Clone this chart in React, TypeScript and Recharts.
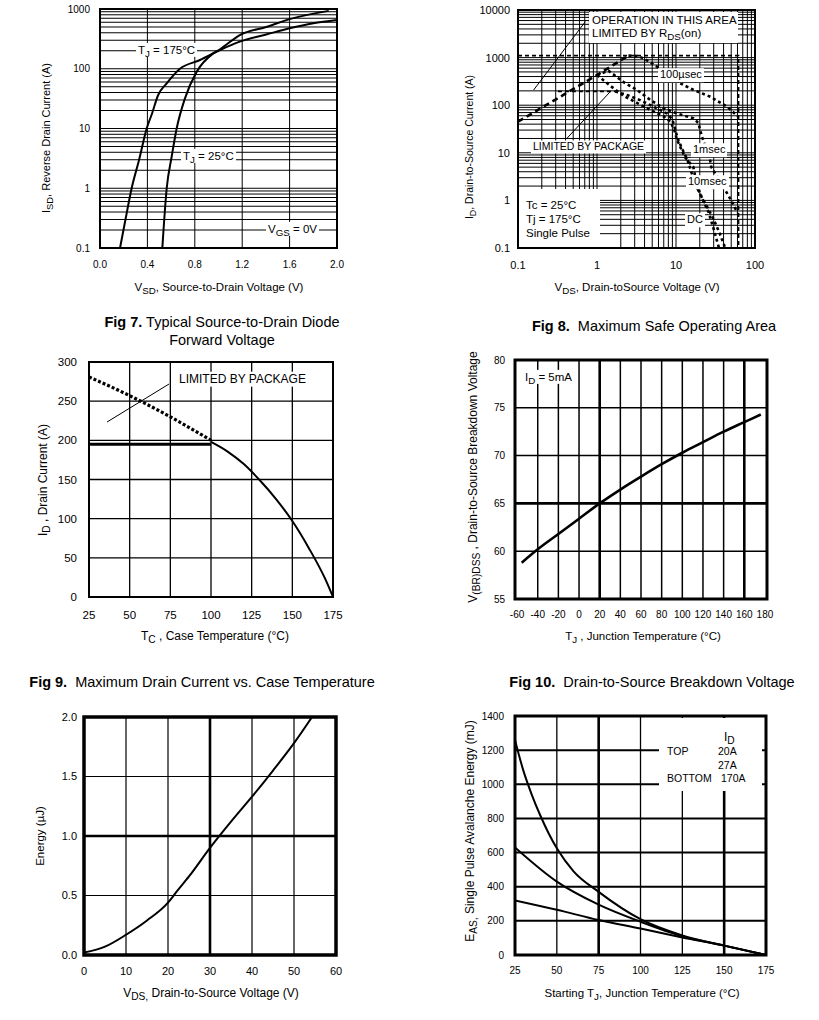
import React from 'react'
import { LineChart, Line, XAxis, YAxis, ReferenceLine, ReferenceArea } from 'recharts'

const FONT = '"Liberation Sans", Arial, Helvetica, sans-serif'

type Rect = { x0: number; y0: number; x1: number; y1: number }
const pts = (a: number[][]) => a.map(([x, y]) => ({ x, y }))

// log grid values strictly inside (from, to)
const logGrid = (from: number, to: number) => {
  const out: number[] = []
  for (let d = from; d < to; d *= 10)
    for (let m = 1; m < 10; m++) {
      const v = +(d * m).toPrecision(3)
      if (v > from && v < to) out.push(v)
    }
  return out
}

// ---------- Fig 7: source-to-drain diode forward voltage
const fig7XTicks = [0, 0.4, 0.8, 1.2, 1.6, 2.0]
const fig7YTicks = [0.1, 1, 10, 100, 1000]
const fig7Tj175 = pts([
  [0.169, 0.1], [0.215, 0.3], [0.267, 1], [0.33, 3], [0.394, 10], [0.44, 18], [0.49, 36],
  [0.563, 57], [0.675, 100], [0.844, 140], [1.013, 206], [1.18, 284], [1.41, 377],
  [1.6, 475], [1.8, 577], [2.0, 655],
])
const fig7Tj25 = pts([
  [0.526, 0.1], [0.563, 1], [0.605, 3.4], [0.647, 10], [0.717, 32], [0.816, 89],
  [0.956, 181], [1.013, 212], [1.18, 367], [1.41, 505], [1.6, 676], [1.93, 930],
])

// ---------- Fig 8: safe operating area
const fig8XTicks = [0.1, 1, 10, 100]
const fig8YTicks = [0.1, 1, 10, 100, 1000, 10000]
const fig8Idm = pts([[0.1, 1100], [62, 1100], [62, 0.1]])
const fig8Rds = pts([[0.1, 45], [1, 430], [2.5, 1100]])
const fig8Package = pts([[0.32, 195], [1.7, 195]])
const fig8Us100 = pts([
  [2.5, 1100], [3.2, 1080], [3.9, 966], [5.74, 645], [10.3, 312], [16.7, 209],
  [27.2, 151], [44.2, 93], [61.7, 57],
])
const fig8Ms1 = pts([
  [1.0, 430], [1.4, 530], [2.2, 300], [3.2, 210], [4.7, 130], [7, 86], [10.3, 67],
  [16.7, 53], [19.3, 42], [20, 32], [21.3, 22], [23, 15], [26, 10], [28, 5],
  [33, 3.2], [41.5, 1.7], [50, 1], [60, 0.55],
])
const fig8Ms10 = pts([
  [1.0, 430], [1.5, 250], [2.2, 155], [3.2, 112], [4.7, 80], [7, 58], [8.5, 45],
  [9.5, 30], [10.3, 19], [11.4, 13], [13, 8], [16.6, 5], [17.5, 3.2], [18.4, 2],
  [21, 1.2], [24.6, 0.75], [30, 0.4], [35, 0.22], [42, 0.1],
])
const fig8Dc = pts([
  [1.7, 195], [2.5, 160], [3.5, 128], [5.2, 93], [7.7, 67], [9, 50], [9.8, 30],
  [10.5, 20], [12, 12], [14, 7], [16, 3.5], [18, 2], [20, 1.4], [22, 1], [26, 0.55],
  [30, 0.25], [35, 0.1],
])
const fig8RdsLeader = pts([[0.1575, 208], [0.711, 5675]])
const fig8PkgLeader = pts([[0.417, 20.2], [1.47, 192]])

// ---------- Fig 9: max drain current vs case temperature
const fig9XTicks = [25, 50, 75, 100, 125, 150, 175]
const fig9YTicks = [0, 50, 100, 150, 200, 250, 300]
const fig9Silicon = pts([[25, 281], [50, 257], [75, 230], [100, 200]])
const fig9Package = pts([[25, 195], [100, 195]])
const fig9Curve = pts([
  [100, 198], [110, 186], [120, 170], [130, 149], [140, 125], [150, 97],
  [160, 63], [170, 24], [175, 0],
])
const fig9Leader = pts([[36.1, 223.4], [74.2, 271.9]])

// ---------- Fig 10: breakdown voltage vs junction temperature
const fig10XTicks = [-60, -40, -20, 0, 20, 40, 60, 80, 100, 120, 140, 160, 180]
const fig10YTicks = [55, 60, 65, 70, 75, 80]
const fig10Curve = pts([
  [-55.5, 58.8], [-40, 60.2], [-20, 61.8], [0, 63.4], [20, 65], [40, 66.45], [60, 67.8],
  [80, 69.1], [100, 70.3], [120, 71.4], [140, 72.5], [160, 73.5], [176, 74.3],
])

// ---------- Fig 11: output capacitance stored energy
const fig11XTicks = [0, 10, 20, 30, 40, 50, 60]
const fig11YTicks = [0, 0.5, 1.0, 1.5, 2.0]
const fig11Curve = pts([
  [0, 0.02], [5, 0.07], [10, 0.17], [15, 0.29], [20, 0.44], [22, 0.53], [25, 0.66],
  [30, 0.9], [35, 1.12], [40, 1.33], [45, 1.55], [50, 1.78], [54.3, 2.0],
])

// ---------- Fig 12: single pulse avalanche energy
const fig12XTicks = [25, 50, 75, 100, 125, 150, 175]
const fig12YTicks = [0, 200, 400, 600, 800, 1000, 1200, 1400]
const fig12Top = pts([
  [25, 1260], [30, 1080], [35, 940], [40, 820], [45, 715], [50, 625], [60, 490],
  [75, 370], [100, 210], [125, 115], [150, 55], [175, 0],
])
const fig12Mid = pts([[25, 630], [50, 430], [75, 295], [100, 195], [125, 110], [150, 55], [175, 0]])
const fig12Bottom = pts([[25, 320], [50, 265], [75, 205], [100, 155], [125, 103], [150, 55], [175, 0]])

const PL = 60
const PT = 6
const PR = 12
const PB = 36

function Frame({ r, children }: { r: Rect; children: React.ReactNode }) {
  return (
    <div style={{ position: 'absolute', left: r.x0 - PL, top: r.y0 - PT }}>
      <LineChart
        width={r.x1 - r.x0 + PL + PR}
        height={r.y1 - r.y0 + PT + PB}
        margin={{ top: PT, right: PR, left: 0, bottom: 0 }}
      >
        {children}
      </LineChart>
    </div>
  )
}

const tickStyle = (size: number) => ({ fontSize: size, fill: '#000', fontFamily: FONT })

const curve = (key: string, data: { x: number; y: number }[], width = 2, dash?: string, type: 'monotone' | 'linear' = 'monotone') => (
  <Line
    key={key}
    data={data}
    dataKey="y"
    type={type}
    stroke="#000"
    strokeWidth={width}
    strokeDasharray={dash}
    dot={false}
    activeDot={false}
    isAnimationActive={false}
  />
)

const hLines = (vals: number[], w: (v: number) => number) =>
  vals.map((v) => <ReferenceLine key={'h' + v} y={v} stroke="#000" strokeWidth={w(v)} />)
const vLines = (vals: number[], w: (v: number) => number) =>
  vals.map((v) => <ReferenceLine key={'v' + v} x={v} stroke="#000" strokeWidth={w(v)} />)

const border = (x: number[], y: number[], w: number) => (
  <ReferenceArea x1={x[0]} x2={x[1]} y1={y[0]} y2={y[1]} fill="none" stroke="#000" strokeWidth={w} />
)

const segment = (key: string, p: { x: number; y: number }[]) => (
  <ReferenceLine key={key} segment={p} stroke="#000" strokeWidth={1} />
)

function Sub({ children }: { children: React.ReactNode }) {
  return <span style={{ fontSize: '0.85em', position: 'relative', top: '0.3em' }}>{children}</span>
}

function T({ x, y, size = 11, anchor = 'start', bg = false, children }: {
  x: number; y: number; size?: number; anchor?: 'start' | 'middle' | 'end'; bg?: boolean; children: React.ReactNode
}) {
  const tx = anchor === 'middle' ? '-50%' : anchor === 'end' ? '-100%' : '0'
  return (
    <div
      style={{
        position: 'absolute', left: x, top: y, transform: `translate(${tx}, -50%)`,
        fontSize: size, lineHeight: 1.05, whiteSpace: 'pre',
        background: bg ? '#fff' : undefined, padding: bg ? '1px 2px' : 0,
      }}
    >
      {children}
    </div>
  )
}

function VT({ x, y, size = 11.5, children }: { x: number; y: number; size?: number; children: React.ReactNode }) {
  return (
    <div
      style={{
        position: 'absolute', left: x, top: y, transform: 'translate(-50%, -50%) rotate(-90deg)',
        fontSize: size, lineHeight: 1.05, whiteSpace: 'pre',
      }}
    >
      {children}
    </div>
  )
}

function Box({ x0, y0, x1, y1 }: Rect) {
  return <div style={{ position: 'absolute', left: x0, top: y0, width: x1 - x0, height: y1 - y0, background: '#fff' }} />
}

const r7: Rect = { x0: 100, y0: 9, x1: 337, y1: 248 }
const r8: Rect = { x0: 518, y0: 10, x1: 755, y1: 248 }
const r9: Rect = { x0: 89, y0: 362, x1: 333, y1: 597 }
const r10: Rect = { x0: 515, y0: 360, x1: 767, y1: 599 }
const r11: Rect = { x0: 84, y0: 717, x1: 336, y1: 955 }
const r12: Rect = { x0: 515, y0: 716, x1: 766, y1: 955 }

export default function App() {
  return (
    <div style={{ position: 'absolute', left: 0, top: 0, width: 819, height: 1020, background: '#fff', fontFamily: FONT, color: '#000', overflow: 'hidden' }}>
      {/* Fig 7 */}
      <Frame r={r7}>
        <XAxis type="number" dataKey="x" domain={[0, 2]} ticks={fig7XTicks} interval={0} height={PB} axisLine={false} tickLine={false} tickMargin={7} tick={tickStyle(10)} tickFormatter={(v: number) => v.toFixed(1)} allowDataOverflow />
        <YAxis type="number" scale="log" domain={[0.1, 1000]} ticks={fig7YTicks} interval={0} width={PL} axisLine={false} tickLine={false} tickMargin={4} tick={tickStyle(10)} allowDataOverflow />
        {hLines(logGrid(0.1, 1000), () => 1)}
        {vLines([0.4, 0.8, 1.2, 1.6], () => 1)}
        {curve('t175', fig7Tj175, 2)}
        {curve('t25', fig7Tj25, 2)}
        {border([0, 2], [0.1, 1000], 2)}
      </Frame>

      {/* Fig 8 */}
      <Frame r={r8}>
        <XAxis type="number" dataKey="x" scale="log" domain={[0.1, 100]} ticks={fig8XTicks} interval={0} height={PB} axisLine={false} tickLine={false} tickMargin={7} tick={tickStyle(11)} allowDataOverflow />
        <YAxis type="number" scale="log" domain={[0.1, 10000]} ticks={fig8YTicks} interval={0} width={PL} axisLine={false} tickLine={false} tickMargin={2} tick={tickStyle(11)} allowDataOverflow />
        {hLines(logGrid(0.1, 10000), () => 1)}
        {vLines(logGrid(0.1, 100), () => 1)}
        {segment('ldr1', fig8RdsLeader)}
        {segment('ldr2', fig8PkgLeader)}
        {curve('idm', fig8Idm, 1.6, '4 3', 'linear')}
        {curve('pkg', fig8Package, 1.6, '4 3', 'linear')}
        {curve('rds', fig8Rds, 2.6, '6 4', 'linear')}
        {curve('us100', fig8Us100, 2.6, '3 3', 'linear')}
        {curve('ms1', fig8Ms1, 2.6, '3 3', 'linear')}
        {curve('ms10', fig8Ms10, 2.6, '3 3', 'linear')}
        {curve('dc', fig8Dc, 2.6, '3 3', 'linear')}
        {border([0.1, 100], [0.1, 10000], 2)}
      </Frame>

      {/* Fig 9 */}
      <Frame r={r9}>
        <XAxis type="number" dataKey="x" domain={[25, 175]} ticks={fig9XTicks} interval={0} height={PB} axisLine={false} tickLine={false} tickMargin={8} tick={tickStyle(11.5)} allowDataOverflow />
        <YAxis type="number" domain={[0, 300]} ticks={fig9YTicks} interval={0} width={PL} axisLine={false} tickLine={false} tickMargin={6} tick={tickStyle(11.5)} allowDataOverflow />
        {hLines([50, 100, 150, 200, 250], () => 1.3)}
        {vLines([50, 75, 100, 125, 150], () => 1.3)}
        {segment('ldr', fig9Leader)}
        {curve('pkg', fig9Package, 3.2, undefined, 'linear')}
        {curve('si', fig9Silicon, 3.2, '3 2', 'monotone')}
        {curve('id', fig9Curve, 2)}
        {border([25, 175], [0, 300], 2)}
      </Frame>

      {/* Fig 10 */}
      <Frame r={r10}>
        <XAxis type="number" dataKey="x" domain={[-62, 182]} ticks={fig10XTicks} interval={0} height={PB} axisLine={false} tickLine={false} tickMargin={6} tick={tickStyle(10)} allowDataOverflow />
        <YAxis type="number" domain={[55, 80]} ticks={fig10YTicks} interval={0} width={PL} axisLine={false} tickLine={false} tickMargin={4} tick={tickStyle(10)} allowDataOverflow />
        {hLines([60, 65, 70, 75], (v) => (v === 65 ? 2.6 : 1.5))}
        {vLines([-40, -20, 0, 20, 40, 60, 80, 100, 120, 140, 160], (v) => (v === 20 || v === 160 ? 2.6 : 1.5))}
        {curve('bv', fig10Curve, 2.6)}
        {border([-62, 182], [55, 80], 3)}
      </Frame>

      {/* Fig 11 */}
      <Frame r={r11}>
        <XAxis type="number" dataKey="x" domain={[0, 60]} ticks={fig11XTicks} interval={0} height={PB} axisLine={false} tickLine={false} tickMargin={6} tick={tickStyle(11)} allowDataOverflow />
        <YAxis type="number" domain={[0, 2]} ticks={fig11YTicks} interval={0} width={PL} axisLine={false} tickLine={false} tickMargin={1} tick={tickStyle(11)} tickFormatter={(v: number) => v.toFixed(1)} allowDataOverflow />
        {hLines([0.5, 1.0, 1.5], (v) => (v === 1 ? 2.6 : 1.2))}
        {vLines([10, 20, 30, 40, 50], (v) => (v === 30 ? 2.6 : 1.2))}
        {curve('e', fig11Curve, 2)}
        {border([0, 60], [0, 2], 3.5)}
      </Frame>

      {/* Fig 12 */}
      <Frame r={r12}>
        <XAxis type="number" dataKey="x" domain={[25, 175]} ticks={fig12XTicks} interval={0} height={PB} axisLine={false} tickLine={false} tickMargin={6} tick={tickStyle(10)} allowDataOverflow />
        <YAxis type="number" domain={[0, 1400]} ticks={fig12YTicks} interval={0} width={PL} axisLine={false} tickLine={false} tickMargin={5} tick={tickStyle(10)} allowDataOverflow />
        {hLines([200, 400, 600, 800, 1000, 1200], () => 2)}
        {vLines([50, 75, 100, 125, 150], (v) => (v === 75 || v === 150 ? 2.6 : 1.3))}
        {curve('top', fig12Top, 2)}
        {curve('mid', fig12Mid, 2)}
        {curve('bot', fig12Bottom, 2)}
        {border([25, 175], [0, 1400], 3)}
      </Frame>

      {/* masks over grid */}
      <Box x0={589} y0={12} x1={738} y1={43} />
      <Box x0={519} y0={189} x1={600} y1={247} />
      <Box x0={659} y0={718} x1={762} y1={791} />

      {/* Fig 7 texts */}
      <T x={136} y={50} size={11.5} bg>T<Sub>J</Sub> = 175°C</T>
      <T x={181} y={156} size={11.5} bg>T<Sub>J</Sub> = 25°C</T>
      <T x={266} y={229} size={11.5} bg>V<Sub>GS</Sub> = 0V</T>
      <VT x={47} y={138} size={11}>I<Sub>SD</Sub>, Reverse Drain Current (A)</VT>
      <T x={219} y={287} size={11.5} anchor="middle">V<Sub>SD</Sub>, Source-to-Drain Voltage (V)</T>
      <T x={222} y={323} size={14.5} anchor="middle"><b>Fig 7.</b> Typical Source-to-Drain Diode</T>
      <T x={222} y={341} size={14.5} anchor="middle">Forward Voltage</T>

      {/* Fig 8 texts */}
      <T x={592} y={20} size={11.5}>OPERATION IN THIS AREA</T>
      <T x={592} y={33} size={11.5}>LIMITED BY R<Sub>DS</Sub>(on)</T>
      <T x={658} y={75} size={11} bg>100µsec</T>
      <T x={691} y={150} size={11} bg>1msec</T>
      <T x={686} y={182} size={11} bg>10msec</T>
      <T x={685} y={220} size={11} bg>DC</T>
      <T x={531} y={147} size={10.5} bg>LIMITED BY PACKAGE</T>
      <T x={526} y={205} size={11.5}>Tc = 25°C</T>
      <T x={526} y={219} size={11.5}>Tj = 175°C</T>
      <T x={526} y={233} size={11.5}>Single Pulse</T>
      <VT x={470} y={147} size={10.5}>I<Sub>D</Sub>, Drain-to-Source Current (A)</VT>
      <T x={637} y={287} size={11.5} anchor="middle">V<Sub>DS</Sub>, Drain-toSource Voltage (V)</T>
      <T x={654} y={327} size={14.5} anchor="middle"><b>Fig 8.</b>  Maximum Safe Operating Area</T>

      {/* Fig 9 texts */}
      <T x={177} y={379} size={12} bg>LIMITED BY PACKAGE</T>
      <VT x={43} y={480} size={12}>I<Sub>D</Sub> , Drain Current (A)</VT>
      <T x={215} y={636} size={12} anchor="middle">T<Sub>C</Sub> , Case Temperature (°C)</T>
      <T x={202} y={683} size={14.5} anchor="middle"><b>Fig 9.</b>  Maximum Drain Current vs. Case Temperature</T>

      {/* Fig 10 texts */}
      <T x={523} y={377} size={11.5} bg>I<Sub>D</Sub> = 5mA</T>
      <VT x={473} y={477} size={12}>V<Sub>(BR)DSS</Sub> , Drain-to-Source Breakdown Voltage</VT>
      <T x={643} y={636} size={11.5} anchor="middle">T<Sub>J</Sub> , Junction Temperature (°C)</T>
      <T x={652} y={683} size={14.5} anchor="middle"><b>Fig 10.</b>  Drain-to-Source Breakdown Voltage</T>

      {/* Fig 11 texts */}
      <VT x={40} y={836} size={11.5}>Energy (µJ)</VT>
      <T x={211} y={993} size={12} anchor="middle">V<Sub>DS,</Sub> Drain-to-Source Voltage (V)</T>

      {/* Fig 12 texts */}
      <T x={724} y={737} size={12}>I<Sub>D</Sub></T>
      <T x={667} y={752} size={10.5}>TOP</T>
      <T x={718} y={752} size={10.5}>20A</T>
      <T x={718} y={766} size={10.5}>27A</T>
      <T x={667} y={779} size={10.5}>BOTTOM</T>
      <T x={721} y={779} size={10.5}>170A</T>
      <VT x={470} y={831} size={12}>E<Sub>AS,</Sub> Single Pulse Avalanche Energy (mJ)</VT>
      <T x={642} y={993} size={11.5} anchor="middle">Starting T<Sub>J</Sub>, Junction Temperature (°C)</T>
    </div>
  )
}
